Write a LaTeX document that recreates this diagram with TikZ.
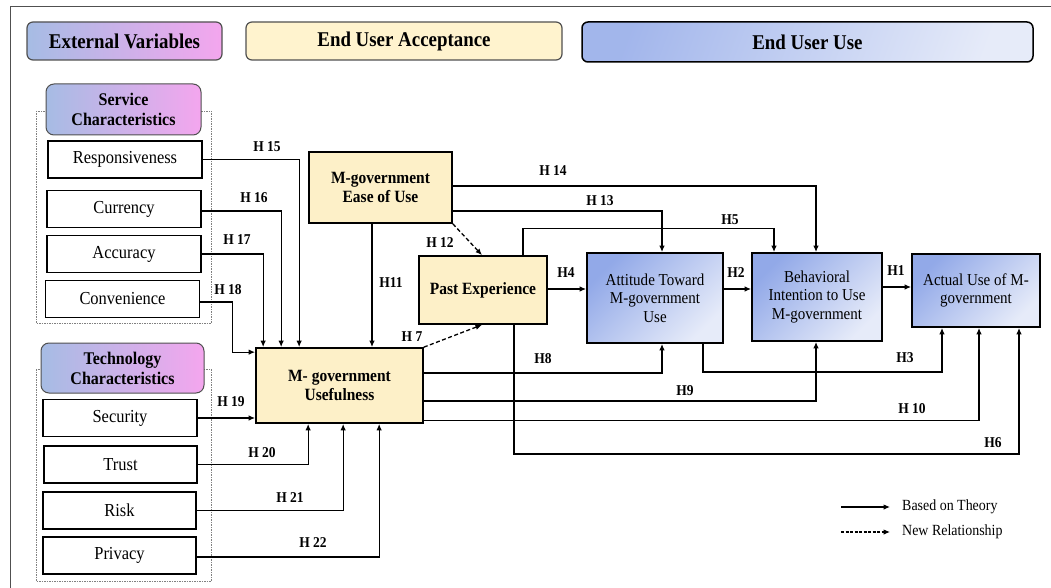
\documentclass[tikz,border=0pt]{standalone}
\usepackage{fontspec}
\setmainfont{Liberation Serif}[FakeStretch=0.9]
\usetikzlibrary{arrows.meta}

\definecolor{cream}{RGB}{253,240,200}
\definecolor{creamhdr}{RGB}{255,243,206}
\definecolor{bluedark}{RGB}{146,169,232}
\definecolor{bluelight}{RGB}{230,235,249}
\definecolor{gradblue}{RGB}{166,188,228}
\definecolor{gradpink}{RGB}{244,166,238}
\definecolor{frameline}{RGB}{80,80,80}

\tikzset{
  hdr/.style={rounded corners=6pt, draw=frameline, line width=1.2pt, inner sep=0pt,
    font=\fontsize{21}{24}\selectfont\bfseries},
  grptitle/.style={rounded corners=8pt, draw=frameline, line width=1pt, inner sep=0pt,
    left color=gradblue, right color=gradpink, align=center,
    font=\fontsize{17.8}{20}\selectfont\bfseries},
  grp/.style={draw=gray, line width=0.6pt, dash pattern=on 1.5pt off 1pt},
  wbox/.style={draw, line width=1.7pt, fill=white, inner sep=0pt,
    minimum width=154pt, minimum height=37pt,
    font=\fontsize{18.3}{20}\selectfont},
  ybox/.style={draw, line width=1.7pt, fill=cream, inner sep=0pt, align=center,
    font=\fontsize{17.2}{19}\selectfont\bfseries},
  bbox/.style={draw, line width=1.7pt, inner sep=0pt, align=center,
    top color=bluedark, bottom color=bluelight, shading angle=45,
    font=\fontsize{16.7}{18.5}\selectfont},
  arr/.style={line width=1.3pt, -{Latex[length=6.5pt,width=5.5pt]}},
  darr/.style={arr, dash pattern=on 4pt off 2.5pt},
  hlab/.style={inner sep=0pt, font=\fontsize{15}{16}\selectfont\bfseries},
  legtext/.style={inner sep=0pt, anchor=west, font=\fontsize{15.5}{17}\selectfont},
}

\begin{document}
\begin{tikzpicture}[x=1pt,y=-1pt]
\useasboundingbox (0,0) rectangle (1051,588);
\fill[white] (0,0) rectangle (1051,588);

% page frame
\draw[frameline, line width=1pt] (1051,7) -- (10,7) -- (10,588);

% column headers
\node[hdr, left color=gradblue, right color=gradpink,
      minimum width=195pt, minimum height=38pt] (hExt) at (124.5,41) {External Variables};
\node[hdr, fill=creamhdr, minimum width=316pt, minimum height=38pt] (hAcc) at (404,41) {End User Acceptance};
\node[hdr, draw=black, line width=1.5pt, left color=bluedark!85!white, right color=bluelight, shading angle=70,
      minimum width=451pt, minimum height=40pt] (hUse) at (807.5,42) {End User Use};

% service characteristics group
\draw[grp] (36,111) rectangle (211,323);
\node[grptitle, minimum width=155pt, minimum height=51pt] (svc) at (123.5,109.5) {Service\\Characteristics};
\node[wbox] (resp) at (125,159.5) {Responsiveness};
\node[wbox] (curr) at (124,209) {Currency};
\node[wbox] (accu) at (124,254) {Accuracy};
\node[wbox] (conv) at (122.5,299) {Convenience};

% technology characteristics group
\draw[grp] (36,369) rectangle (211,581);
\node[grptitle, minimum width=163pt, minimum height=50pt] (tech) at (122.5,368) {Technology\\Characteristics};
\node[wbox] (secu) at (120,418) {Security};
\node[wbox, minimum width=153pt] (trust) at (120.5,464.5) {Trust};
\node[wbox, minimum width=153pt] (risk) at (119.5,510.5) {Risk};
\node[wbox, minimum width=153pt] (priv) at (119.5,555.5) {Privacy};

% acceptance constructs
\node[ybox, minimum width=143pt, minimum height=71pt] (ease) at (380.5,187.5) {M-government\\Ease of Use};
\node[ybox, minimum width=167pt, minimum height=75pt] (usef) at (339.5,385.5) {M- government\\Usefulness};
\node[ybox, minimum width=128pt, minimum height=68pt] (past) at (483,290) {Past Experience};

% use constructs
\node[bbox, minimum width=136pt, minimum height=90pt] (att) at (655,298) {Attitude Toward\\M-government\\Use};
\node[bbox, minimum width=130pt, minimum height=88pt] (beh) at (817,297) {Behavioral\\Intention to Use\\M-government};
\node[bbox, minimum width=128pt, minimum height=73pt] (act) at (976,290.5) {Actual Use of M-\\government};

% external variables -> usefulness
\draw[arr] (resp.east) -| ([xshift=44pt]usef.north west);
\draw[arr] ([yshift=-2pt]curr.east) -| ([xshift=26pt]usef.north west);
\draw[arr] (accu.east) -| ([xshift=8pt]usef.north west);
\draw[arr] ([yshift=-3pt]conv.east) -- ++(32,0) |- ([yshift=-5pt]usef.north west);
\draw[arr] (secu.east) -- (secu.east -| usef.west);
\draw[arr] (trust.east) -| ([xshift=53pt]usef.south west);
\draw[arr] (risk.east) -| ([xshift=88pt]usef.south west);
\draw[arr] ([yshift=-1.5pt]priv.east) -| ([xshift=124pt]usef.south west);

% acceptance links
\draw[arr] ([xshift=-8.5pt]ease.south) -- ([xshift=-8.5pt]ease.south |- usef.north);
\draw[darr] (ease.south east) -- ([xshift=-1pt]past.north);
\draw[darr] (usef.north east) -- ([xshift=-1pt]past.south);
\draw[arr] ([yshift=1.5pt]ease.east) -| ([xshift=-1pt]beh.north);
\draw[arr] ([yshift=-23.5pt]ease.east) -| ([xshift=7pt]att.north);
\draw[arr] ([xshift=40pt]past.north) -- ++(0,-27) -| ([xshift=-43pt]beh.north);
\draw[arr] ([yshift=1pt]past.east) -- ([yshift=1pt]past.east -| att.west);
\draw[arr] ([yshift=9pt]att.east) -- ([yshift=9pt]att.east -| beh.west);
\draw[arr] ([yshift=10pt]beh.east) -- ([yshift=10pt]beh.east -| act.west);

% usefulness and experience -> use constructs
\draw[arr] ([yshift=12.5pt]usef.east) -| ([xshift=7pt]att.south);
\draw[arr] ([xshift=48pt]att.south) -- ++(0,28) -| ([xshift=-34pt]act.south);
\draw[arr] ([yshift=-15.5pt]usef.east) -| ([xshift=-1pt]beh.south);
\draw[arr] ([yshift=-35pt]usef.east) -| ([xshift=3pt]act.south);
\draw[arr] ([xshift=31pt]past.south) -- ++(0,129) -| ([xshift=43pt]act.south);

% hypothesis labels
\node[hlab] (l15) at (267,147) {H 15};
\node[hlab] (l16) at (254,198) {H 16};
\node[hlab] (l17) at (237,240) {H 17};
\node[hlab] (l18) at (228,290) {H 18};
\node[hlab] (l19) at (231,402) {H 19};
\node[hlab] (l20) at (262,453) {H 20};
\node[hlab] (l21) at (290,498) {H 21};
\node[hlab] (l22) at (313,543) {H 22};
\node[hlab] (l11) at (391,283) {H11};
\node[hlab] (l12) at (440,243) {H 12};
\node[hlab] (l7)  at (412,337) {H 7};
\node[hlab] (l14) at (553,171) {H 14};
\node[hlab] (l13) at (600,201) {H 13};
\node[hlab] (l5)  at (730,220) {H5};
\node[hlab] (l4)  at (566,273) {H4};
\node[hlab] (l2)  at (736,273) {H2};
\node[hlab] (l1)  at (896,271) {H1};
\node[hlab] (l8)  at (543,359) {H8};
\node[hlab] (l9)  at (685,391) {H9};
\node[hlab] (l3)  at (905,358) {H3};
\node[hlab] (l10) at (912,409) {H 10};
\node[hlab] (l6)  at (993,443) {H6};

% legend
\coordinate (ka) at (841,507);
\coordinate (kb) at (890,507);
\coordinate (kc) at (841,532);
\coordinate (kd) at (890,532);
\draw[arr, line width=1.1pt] (ka) -- (kb);
\draw[darr, line width=1.1pt, dash pattern=on 3pt off 1.5pt] (kc) -- (kd);
\node[legtext] (lt1) at (902,507) {Based on Theory};
\node[legtext] (lt2) at (902,532) {New Relationship};
\end{tikzpicture}
\end{document}
